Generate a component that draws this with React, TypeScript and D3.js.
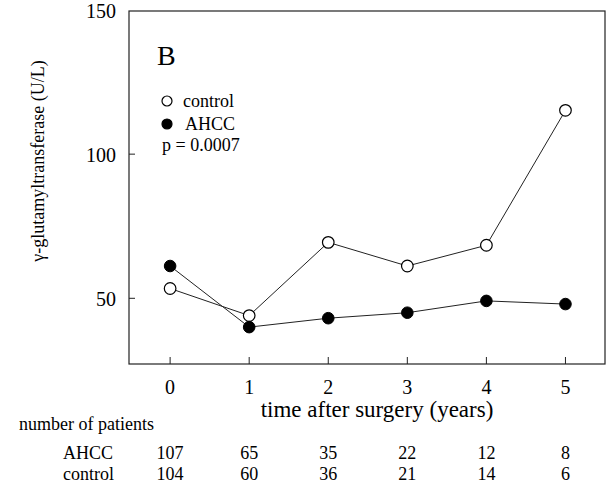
import React from "react";
import * as d3 from "d3";

const years = [0, 1, 2, 3, 4, 5];
const controlValues = [53.4, 44, 69.4, 61.2, 68.4, 115.2];
const ahccValues = [61.2, 40, 43.1, 45, 49.1, 48];
const yTicks = [50, 100, 150];
const ahccCounts = [107, 65, 35, 22, 12, 8];
const controlCounts = [104, 60, 36, 21, 14, 6];

const W = 607;
const H = 486;
const left = 129;
const right = 605;
const top = 11;
const bottom = 364;
const font = "Liberation Serif, Times New Roman, serif";

export default function App() {
  const x = d3.scaleLinear().domain([-0.52, 5.5]).range([left, right]);
  const y = d3.scaleLinear().domain([50, 150]).range([298.3, 10]);
  const line = d3
    .line<number>()
    .x((_, i) => x(years[i]))
    .y((d) => y(d));
  const ts = { fontFamily: font };

  return (
    <svg
      width={W}
      height={H}
      style={{ position: "absolute", left: 0, top: 0, background: "#fff", fontFamily: font }}
    >
      <rect x={0} y={0} width={W} height={H} fill="#fff" />
      {/* frame */}
      <rect
        x={left}
        y={top}
        width={right - left}
        height={bottom - top}
        fill="none"
        stroke="#222"
        strokeWidth={1.2}
      />
      {/* y ticks */}
      {yTicks.map((t) => (
        <g key={t}>
          {t !== 150 && (
            <line x1={left} x2={left + 6} y1={y(t)} y2={y(t)} stroke="#222" strokeWidth={1} />
          )}
          <text x={116} y={y(t) + 8} textAnchor="end" fontSize={20} fill="#000" style={ts}>
            {t}
          </text>
        </g>
      ))}
      {/* x ticks */}
      {years.map((t) => (
        <g key={t}>
          <line x1={x(t)} x2={x(t)} y1={bottom} y2={bottom - 7} stroke="#222" strokeWidth={1} />
          <text x={x(t)} y={394} textAnchor="middle" fontSize={20} fill="#000" style={ts}>
            {t}
          </text>
        </g>
      ))}
      {/* axis titles */}
      <text x={377} y={417} textAnchor="middle" fontSize={23} fill="#000" style={ts}>
        time after surgery (years)
      </text>
      <text
        transform={`translate(44,161) rotate(-90)`}
        textAnchor="middle"
        fontSize={18}
        fill="#000"
        style={ts}
      >
        γ-glutamyltransferase (U/L)
      </text>
      {/* panel letter */}
      <text x={157} y={65} fontSize={28} fill="#000" style={ts}>
        B
      </text>
      {/* legend */}
      <circle cx={167} cy={101} r={5} fill="#fff" stroke="#000" strokeWidth={1.2} />
      <text x={183} y={107} fontSize={18} fill="#000" style={ts}>
        control
      </text>
      <circle cx={167} cy={124} r={5} fill="#000" stroke="#000" strokeWidth={1.2} />
      <text x={185} y={130} fontSize={18} fill="#000" style={ts}>
        AHCC
      </text>
      <text x={162} y={151} fontSize={18} fill="#000" style={ts}>
        p = 0.0007
      </text>
      {/* lines */}
      <path d={line(controlValues) || ""} fill="none" stroke="#222" strokeWidth={1} />
      <path d={line(ahccValues) || ""} fill="none" stroke="#222" strokeWidth={1} />
      {controlValues.map((v, i) => (
        <circle
          key={"c" + i}
          cx={x(years[i])}
          cy={y(v)}
          r={5.8}
          fill="#fff"
          stroke="#000"
          strokeWidth={1.2}
        />
      ))}
      {ahccValues.map((v, i) => (
        <circle
          key={"a" + i}
          cx={x(years[i])}
          cy={y(v)}
          r={5.8}
          fill="#000"
          stroke="#000"
          strokeWidth={1}
        />
      ))}
      {/* patient table */}
      <text x={19} y={430} fontSize={18} fill="#000" style={ts}>
        number of patients
      </text>
      <text x={63} y={459} fontSize={18} fill="#000" style={ts}>
        AHCC
      </text>
      <text x={63} y={480} fontSize={18} fill="#000" style={ts}>
        control
      </text>
      {ahccCounts.map((c, i) => (
        <text key={"ac" + i} x={x(years[i])} y={459} textAnchor="middle" fontSize={18} fill="#000" style={ts}>
          {c}
        </text>
      ))}
      {controlCounts.map((c, i) => (
        <text key={"cc" + i} x={x(years[i])} y={480} textAnchor="middle" fontSize={18} fill="#000" style={ts}>
          {c}
        </text>
      ))}
    </svg>
  );
}
